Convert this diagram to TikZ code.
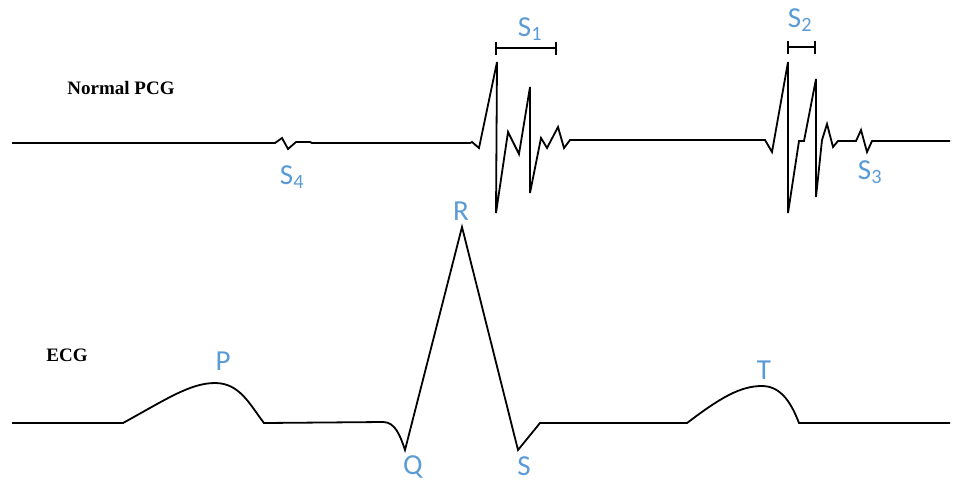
\documentclass[tikz,border=0pt]{standalone}
\usepackage{fontspec}
\setmainfont{Liberation Serif}
\newfontfamily\wavefont{Carlito}
\usetikzlibrary{arrows.meta}
\definecolor{waveblue}{RGB}{91,155,213}
\tikzset{
  wavelabel/.style={text=waveblue,font=\wavefont\fontsize{29}{32}\selectfont,inner sep=0pt},
  tracetitle/.style={font=\bfseries\fontsize{19}{22}\selectfont,inner sep=0pt},
  trace/.style={line width=1.8pt,line join=miter,miter limit=10},
  interval/.style={line width=1.8pt,{Bar[width=13pt]}-{Bar[width=13pt]}}
}
\begin{document}
\begin{tikzpicture}[x=1pt,y=-1pt]
\useasboundingbox (0,0) rectangle (953,483);
% titles
\node[tracetitle] (pcg) at (121,88) {Normal PCG};
\node[tracetitle] (ecg) at (67,355) {ECG};

% PCG trace
\draw[trace] (12,143) -- (275,143) -- (282,138) -- (288,149) -- (296,142) -- (310,142) -- (312,143)
  -- (470,143) -- (472,142) -- (479,148) -- (497,62) -- (496,213) -- (508,132) -- (519,154)
  -- (530,87) -- (530,193) -- (541,138) -- (547,148) -- (558,127) -- (564,148) -- (570,140)
  -- (765,140) -- (772,152) -- (788,62) -- (788,213) -- (799,141) -- (804,141) -- (816,79)
  -- (816,197) -- (822,140) -- (827,124) -- (833,147) -- (838,141) -- (856,141) -- (861,130)
  -- (867,152) -- (872,141) -- (950,141);

% sound intervals
\coordinate (s1a) at (495,48);
\coordinate (s1b) at (557,48);
\coordinate (s2a) at (787,47);
\coordinate (s2b) at (816,47);
\draw[interval] (s1a) -- (s1b);
\draw[interval] (s2a) -- (s2b);
\node[wavelabel] (lblS1) at (530,29) {S\textsubscript{1}};
\node[wavelabel] (lblS2) at (800,20) {S\textsubscript{2}};
\node[wavelabel] (lblS3) at (870,172) {S\textsubscript{3}};
\node[wavelabel] (lblS4) at (292,177) {S\textsubscript{4}};

% ECG trace
\draw[trace] (12,423) -- (123,423) .. controls (165,400) and (190,383) .. (215,383)
  .. controls (240,383) and (250,405) .. (264,423) -- (383,422)
  .. controls (395,422) and (400,435) .. (405,450) -- (462,227) -- (518,450) -- (540,423)
  -- (687,423) .. controls (720,398) and (740,386) .. (762,386)
  .. controls (782,386) and (792,405) .. (799,423) -- (950,423);

\node[wavelabel] (lblP) at (223,361) {P};
\node[wavelabel] (lblR) at (461,211) {R};
\node[wavelabel] (lblQ) at (413,467) {Q};
\node[wavelabel] (lblS) at (524,466) {S};
\node[wavelabel] (lblT) at (764,370) {T};
\end{tikzpicture}
\end{document}
